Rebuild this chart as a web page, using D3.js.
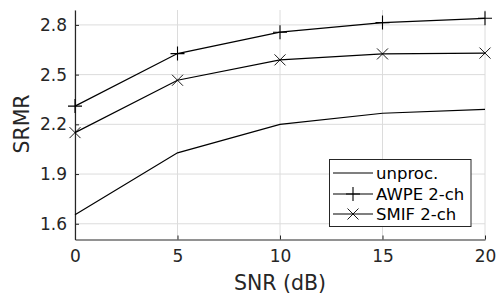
<!DOCTYPE html>
<html><head><meta charset="utf-8">
<script src="https://cdn.jsdelivr.net/npm/d3@7"></script>
<style>body{margin:0;background:#fff}svg{display:block}</style>
</head><body><svg id="c" width="500" height="300"></svg>
<script>
const snr = [0, 5, 10, 15, 20];
const unproc = [1.655, 2.028, 2.2, 2.267, 2.29];
const awpe = [2.31, 2.627, 2.756, 2.814, 2.84];
const smif = [2.15, 2.466, 2.589, 2.625, 2.63];
const xTicks = [0, 5, 10, 15, 20];
const yTicks = [1.6, 1.9, 2.2, 2.5, 2.8];
const seriesNames = ["unproc.", "AWPE 2-ch", "SMIF 2-ch"];
const seriesMarkers = ["none", "plus", "cross"];

const svg = d3.select("#c");
const font = "DejaVu Sans";
const tc = "#262626";
const L = 75, R = 485, T = 10, B = 239.5;
const x = d3.scaleLinear().domain([0, 20]).range([L, R]);
const y = d3.scaleLinear().domain([1.505, 2.89]).range([B, T]);

// grid
svg.append("g").selectAll("line").data(xTicks).join("line")
  .attr("x1", d => x(d)).attr("x2", d => x(d)).attr("y1", T).attr("y2", B)
  .attr("stroke", "#dcdcdc").attr("stroke-width", 1);
svg.append("g").selectAll("line").data(yTicks).join("line")
  .attr("x1", L).attr("x2", R).attr("y1", d => y(d)).attr("y2", d => y(d))
  .attr("stroke", "#dcdcdc").attr("stroke-width", 1);

// axes
const xAxis = d3.axisBottom(x).tickValues(xTicks).tickSizeInner(-4).tickSizeOuter(0).tickPadding(10).tickFormat(d3.format("d"));
const gx = svg.append("g").attr("transform", `translate(0,${B})`).call(xAxis);
const yAxis = d3.axisLeft(y).tickValues(yTicks).tickSizeInner(-4).tickSizeOuter(0).tickPadding(8).tickFormat(d3.format(".1f"));
const gy = svg.append("g").attr("transform", `translate(${L},0)`).call(yAxis);
[gx, gy].forEach(g => {
  g.select(".domain").attr("stroke", tc).attr("stroke-width", 1.2);
  g.selectAll(".tick line").attr("stroke", tc);
  g.selectAll(".tick text").attr("fill", tc).attr("font-family", font).attr("font-size", 17);
});
gx.selectAll(".tick text").attr("dy", "0.71em");

svg.append("text").attr("x", 280).attr("y", 290).attr("text-anchor", "middle")
  .attr("font-family", font).attr("font-size", 20.5).attr("fill", tc).text("SNR (dB)");
svg.append("text").attr("transform", "translate(29,124) rotate(-90)").attr("text-anchor", "middle")
  .attr("font-family", font).attr("font-size", 20.5).attr("fill", tc).text("SRMR");

const line = d3.line().x((d, i) => x(snr[i])).y(d => y(d));
const data = [unproc, awpe, smif];

function marker(g, type, cx, cy) {
  if (type === "plus") {
    g.append("path").attr("d", `M${cx-7},${cy}H${cx+7}M${cx},${cy-7}V${cy+7}`)
      .attr("stroke", "#000").attr("stroke-width", 1.1).attr("fill", "none");
  } else if (type === "cross") {
    const s = 5.5;
    g.append("path").attr("d", `M${cx-s},${cy-s}L${cx+s},${cy+s}M${cx-s},${cy+s}L${cx+s},${cy-s}`)
      .attr("stroke", "#000").attr("stroke-width", 0.9).attr("fill", "none");
  }
}

data.forEach((vals, k) => {
  svg.append("path").datum(vals).attr("d", line).attr("fill", "none")
    .attr("stroke", "#000").attr("stroke-width", 1.2);
  const g = svg.append("g");
  vals.forEach((v, i) => marker(g, seriesMarkers[k], x(snr[i]), y(v)));
});

// legend
const lg = svg.append("g");
lg.append("rect").attr("x", 329.5).attr("y", 159.5).attr("width", 141.5).attr("height", 67)
  .attr("fill", "#fff").attr("stroke", tc).attr("stroke-width", 1);
const rows = [173, 194, 214];
seriesNames.forEach((n, k) => {
  lg.append("line").attr("x1", 333).attr("x2", 373).attr("y1", rows[k]).attr("y2", rows[k])
    .attr("stroke", "#000").attr("stroke-width", 1.2);
  marker(lg, seriesMarkers[k], 353, rows[k]);
  lg.append("text").attr("x", 376).attr("y", rows[k]).attr("dy", "0.35em")
    .attr("font-family", font).attr("font-size", 16.5).attr("fill", "#000").text(n);
});
</script></body></html>
